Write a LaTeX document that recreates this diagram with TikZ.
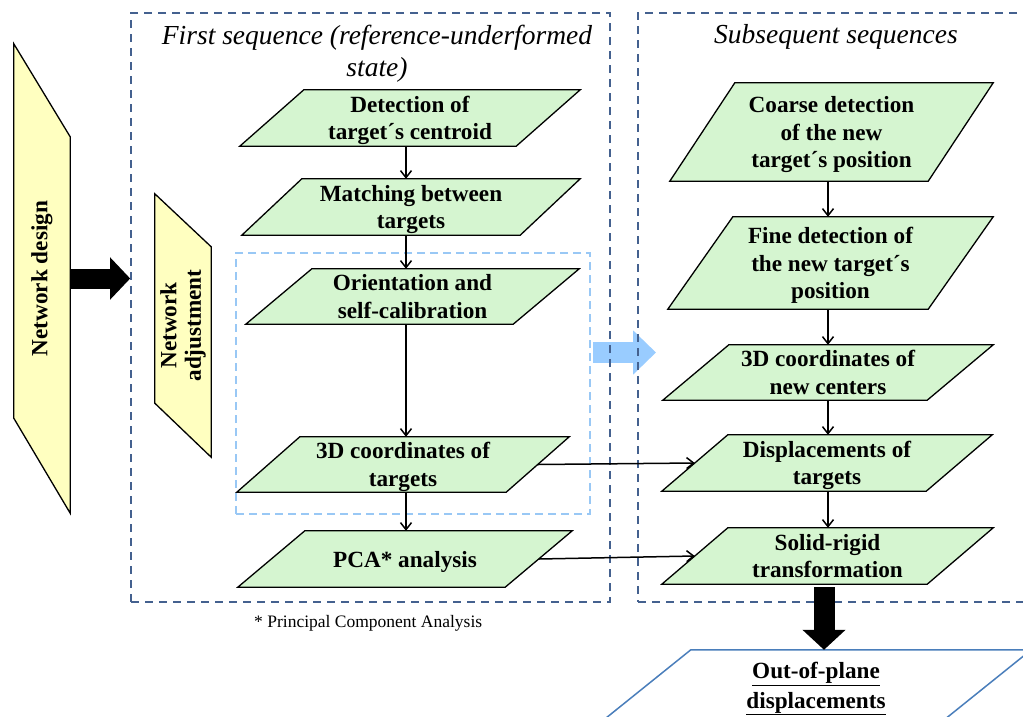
\documentclass[tikz,border=0pt]{standalone}
\usepackage{fontspec}
\setmainfont{Liberation Serif}
\usetikzlibrary{arrows.meta,calc,backgrounds}
\definecolor{boxgreen}{HTML}{D5F5D0}
\definecolor{boxyellow}{HTML}{FFFFC0}
\definecolor{seqblue}{HTML}{44618F}
\definecolor{lightdash}{HTML}{99C8F5}
\definecolor{lightarrow}{HTML}{99CCFF}
\definecolor{outblue}{HTML}{4A7EBB}
\newcommand\lstrut{\rule[-5.75pt]{0pt}{27.5pt}}
\tikzset{
  txt/.style={inner sep=0pt, align=center, font=\fontsize{23.2}{27.5}\selectfont\bfseries},
  para/.style={draw=black, line width=1.3pt, fill=boxgreen, line join=miter},
  ypara/.style={para, fill=boxyellow},
  outpara/.style={draw=outblue, line width=1.5pt, fill=white},
  seqbox/.style={draw=seqblue, line width=1.6pt, dash pattern=on 8pt off 6pt, inner sep=0pt},
  subbox/.style={draw=lightdash, line width=1.5pt, dash pattern=on 8pt off 5pt, inner sep=0pt},
  arr/.style={line width=1.5pt, -{Straight Barb[length=7pt,width=11pt]}},
  blockarr/.style={line width=20pt, -{Triangle[length=20pt,width=41pt]}},
  ttl/.style={font=\fontsize{27.5}{32}\selectfont\itshape, align=center, inner sep=0pt},
}
\newcommand\mypara[3][para]{\path[#1] ($(#2.north west)+(#3,0)$) -- (#2.north east) -- ($(#2.south east)+(-#3,0)$) -- (#2.south west) -- cycle;}
\begin{document}
\begin{tikzpicture}[x=1pt,y=-1pt]
\useasboundingbox (0,0) rectangle (1023,716);
% text nodes
\node[txt, minimum width=56, minimum height=469] (nd) at (42,278.5) {\rotatebox{90}{Network design}};
\node[txt, minimum width=56, minimum height=263] (na) at (183,325.5) {\rotatebox{90}{\begin{tabular}{@{}c@{}}Network\\[-3pt] adjustment\end{tabular}}};
\node[txt, minimum width=340, minimum height=56] (det) at (410,118) {\lstrut Detection of\\\lstrut target´s centroid};
\node[txt, minimum width=338, minimum height=56] (match) at (411,207) {\lstrut Matching between\\\lstrut targets};
\node[txt, minimum width=333, minimum height=55] (orient) at (412.5,296.5) {\lstrut Orientation and\\\lstrut self-calibration};
\node[txt, minimum width=332, minimum height=55] (c3d) at (403,464.5) {\lstrut 3D coordinates of\\\lstrut targets};
\node[txt, minimum width=334, minimum height=56] (pca) at (405,559) {\lstrut PCA* analysis};
\node[txt, minimum width=323, minimum height=98] (coarse) at (831.5,132) {\lstrut Coarse detection\\\lstrut of the new\\\lstrut target´s position};
\node[txt, minimum width=325, minimum height=92] (fine) at (830.5,263) {\lstrut Fine detection of\\\lstrut the new target´s\\\lstrut position};
\node[txt, minimum width=330, minimum height=55] (c3dn) at (828,372.5) {\lstrut 3D coordinates of\\\lstrut new centers};
\node[txt, minimum width=330, minimum height=56] (disp) at (827,463) {\lstrut Displacements of\\\lstrut targets};
\node[txt, minimum width=331, minimum height=56] (sr) at (827.5,556) {\lstrut Solid-rigid\\\lstrut transformation};
\node[txt, minimum width=430, minimum height=72] (out) at (816,686) {\lstrut\underline{Out-of-plane}\\\lstrut\underline{displacements}};
\node[ttl] (t1) at (377,54) {First sequence (reference-underformed\\state)};
\node[ttl] (t2) at (836,37) {Subsequent sequences};
\node[font=\fontsize{17.5}{21}\selectfont, anchor=west, inner sep=0pt] (fn) at (254,623) {* Principal Component Analysis};
\coordinate (colL) at (406,0);
\coordinate (colR) at (828,0);
\coordinate (dn) at (824,0);
\coordinate (bA) at (593,352.5);
\coordinate (bB) at (656,352.5);
% background shapes
\begin{scope}[on background layer]
  \draw[lightarrow, line width=21pt, -{Triangle[length=23pt,width=43pt]}] (bA) -- (bB);
  \node[seqbox, minimum width=479, minimum height=589] (seq1) at (370.5,307.5) {};
  \node[seqbox, minimum width=392, minimum height=589] (seq2) at (834,307.5) {};
  \node[subbox, minimum width=354, minimum height=261] (sub) at (413,383.5) {};
  \path[ypara] (nd.north west) -- ($(nd.north east)+(0,93)$) -- (nd.south east) -- ($(nd.south west)+(0,-95)$) -- cycle;
  \path[ypara] (na.north west) -- ($(na.north east)+(0,53)$) -- (na.south east) -- ($(na.south west)+(0,-54)$) -- cycle;
  \mypara{det}{64}
  \mypara{match}{60}
  \mypara{orient}{66}
  \mypara{c3d}{63}
  \mypara{pca}{67}
  \mypara{coarse}{65}
  \mypara{fine}{65}
  \mypara{c3dn}{66}
  \mypara{disp}{66}
  \mypara{sr}{66}
  \mypara[outpara]{out}{90}
\end{scope}
% connectors
\draw[blockarr] (nd.east) -- (seq1.west |- nd.east);
\draw[line width=21pt, -{Triangle[length=20pt,width=42pt]}] ($(sr.south -| dn)+(0,3)$) -- (out.north -| dn);
\draw[arr] (det.south -| colL) -- (match.north -| colL);
\draw[arr] (match.south -| colL) -- (orient.north -| colL);
\draw[arr] (orient.south -| colL) -- (c3d.north -| colL);
\draw[arr] (c3d.south -| colL) -- (pca.north -| colL);
\draw[arr] (coarse.south -| colR) -- (fine.north -| colR);
\draw[arr] (fine.south -| colR) -- (c3dn.north -| colR);
\draw[arr] (c3dn.south -| colR) -- (disp.north -| colR);
\draw[arr] (disp.south -| colR) -- (sr.north -| colR);
\draw[arr] ($(c3d.east)+(-31.5,0)$) -- ($(disp.west)+(33,0)$);
\draw[arr] ($(pca.east)+(-33.5,0)$) -- ($(sr.west)+(33,0)$);
\end{tikzpicture}
\end{document}
